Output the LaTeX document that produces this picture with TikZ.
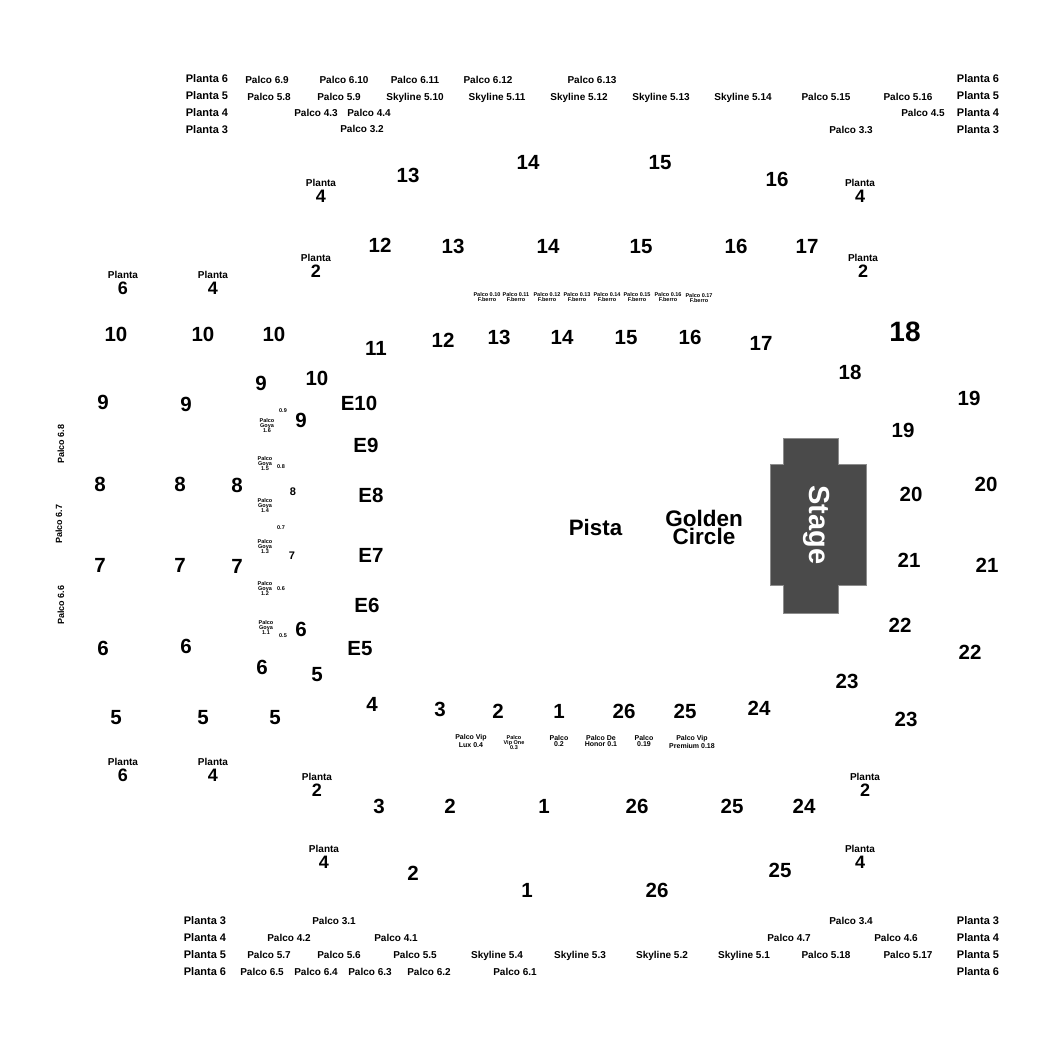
\documentclass[tikz,border=0pt]{standalone}
\usepackage{fontspec}
\setmainfont{Liberation Sans}
\definecolor{stagefill}{HTML}{4A4A4A}
\definecolor{stageline}{HTML}{8C8C8C}
\begin{document}
\begin{tikzpicture}[x=1pt,y=-1pt]
	\tikzstyle{every node}+=[inner sep=0pt,font=\bfseries,align=center]
	\tikzstyle{huge}=[yshift=-0.6pt,font=\bfseries\fontsize{28}{28}\selectfont]
	\tikzstyle{sec}=[yshift=-0.6pt,font=\bfseries\fontsize{20.5}{20.5}\selectfont]
	\tikzstyle{plantanum}=[yshift=-0.6pt,font=\bfseries\fontsize{18}{18}\selectfont]
	\tikzstyle{planta}=[yshift=-0.6pt,font=\bfseries\fontsize{10}{10}\selectfont]
	\tikzstyle{floor}=[yshift=-0.8pt,font=\bfseries\fontsize{11}{11}\selectfont]
	\tikzstyle{tier}=[text height=7.2pt,text depth=0pt,font=\bfseries\fontsize{10}{10}\selectfont]
	\tikzstyle{sidetier}=[rotate=90,font=\bfseries\fontsize{9}{9}\selectfont]
	\tikzstyle{box}=[font=\bfseries\fontsize{7}{6}\selectfont]
	\tikzstyle{tiny}=[font=\bfseries\fontsize{5.5}{5}\selectfont]
	\useasboundingbox (0,0) rectangle (1050,1050);
	% stage
	\fill [stagefill,draw=stageline,line width=0.5pt] (783,438.5) -- (838,438.5) -- (838,464.5) -- (866.5,464.5) -- (866.5,585) -- (838,585) -- (838,613.5) -- (783,613.5) -- (783,585) -- (770.5,585) -- (770.5,464.5) -- (783,464.5) -- cycle;
	\node [white,rotate=-90,font=\bfseries\fontsize{29}{29}\selectfont] (stage) at (817,525) {Stage};
	\node [font=\bfseries\fontsize{22.3}{22}\selectfont] (pista) at (595.5,528) {Pista};
	\node [font=\bfseries\fontsize{22.5}{18.5}\selectfont] (golden) at (704,527.5) {Golden\\Circle};
	% top legend
	\node [floor] (p6tl) at (207,78) {Planta 6};
	\node [floor] (p5tl) at (207,95) {Planta 5};
	\node [floor] (p4tl) at (207,112) {Planta 4};
	\node [floor] (p3tl) at (207,129) {Planta 3};
	\node [floor] (p6tr) at (978,78) {Planta 6};
	\node [floor] (p5tr) at (978,95) {Planta 5};
	\node [floor] (p4tr) at (978,112) {Planta 4};
	\node [floor] (p3tr) at (978,129) {Planta 3};
	\node [tier] (t69) at (267,80) {Palco 6.9};
	\node [tier] (t610) at (344,80) {Palco 6.10};
	\node [tier] (t611) at (415,80) {Palco 6.11};
	\node [tier] (t612) at (488,80) {Palco 6.12};
	\node [tier] (t613) at (592,80) {Palco 6.13};
	\node [tier] (t58) at (269,97) {Palco 5.8};
	\node [tier] (t59) at (339,97) {Palco 5.9};
	\node [tier] (t510) at (415,97) {Skyline 5.10};
	\node [tier] (t511) at (497,97) {Skyline 5.11};
	\node [tier] (t512) at (579,97) {Skyline 5.12};
	\node [tier] (t513) at (661,97) {Skyline 5.13};
	\node [tier] (t514) at (743,97) {Skyline 5.14};
	\node [tier] (t515) at (826,97) {Palco 5.15};
	\node [tier] (t516) at (908,97) {Palco 5.16};
	\node [tier] (t43) at (316,113) {Palco 4.3};
	\node [tier] (t44) at (369,113) {Palco 4.4};
	\node [tier] (t45) at (923,113) {Palco 4.5};
	\node [tier] (t32) at (362,129) {Palco 3.2};
	\node [tier] (t33) at (851,130) {Palco 3.3};
	% bottom legend
	\node [floor] (p3bl) at (205,920) {Planta 3};
	\node [floor] (p4bl) at (205,937) {Planta 4};
	\node [floor] (p5bl) at (205,954) {Planta 5};
	\node [floor] (p6bl) at (205,971) {Planta 6};
	\node [floor] (p3br) at (978,920) {Planta 3};
	\node [floor] (p4br) at (978,937) {Planta 4};
	\node [floor] (p5br) at (978,954) {Planta 5};
	\node [floor] (p6br) at (978,971) {Planta 6};
	\node [tier] (t31) at (334,921) {Palco 3.1};
	\node [tier] (t34) at (851,921) {Palco 3.4};
	\node [tier] (t42) at (289,938) {Palco 4.2};
	\node [tier] (t41) at (396,938) {Palco 4.1};
	\node [tier] (t47) at (789,938) {Palco 4.7};
	\node [tier] (t46) at (896,938) {Palco 4.6};
	\node [tier] (t57) at (269,955) {Palco 5.7};
	\node [tier] (t56) at (339,955) {Palco 5.6};
	\node [tier] (t55) at (415,955) {Palco 5.5};
	\node [tier] (t54) at (497,955) {Skyline 5.4};
	\node [tier] (t53) at (580,955) {Skyline 5.3};
	\node [tier] (t52) at (662,955) {Skyline 5.2};
	\node [tier] (t51) at (744,955) {Skyline 5.1};
	\node [tier] (t518) at (826,955) {Palco 5.18};
	\node [tier] (t517) at (908,955) {Palco 5.17};
	\node [tier] (t65) at (262,972) {Palco 6.5};
	\node [tier] (t64) at (316,972) {Palco 6.4};
	\node [tier] (t63) at (370,972) {Palco 6.3};
	\node [tier] (t62) at (429,972) {Palco 6.2};
	\node [tier] (t61) at (515,972) {Palco 6.1};
	% side palcos
	\node [sidetier] (t68) at (61,444) {Palco 6.8};
	\node [sidetier] (t67) at (59,524) {Palco 6.7};
	\node [sidetier] (t66) at (61,605) {Palco 6.6};
	% planta marks
	\node [planta] (m4a) at (321,182) {Planta};
	\node [plantanum] (m4an) at (321,196) {4};
	\node [planta] (m4b) at (860,182) {Planta};
	\node [plantanum] (m4bn) at (860,196) {4};
	\node [planta] (m2a) at (316,257) {Planta};
	\node [plantanum] (m2an) at (316,271) {2};
	\node [planta] (m2b) at (863,257) {Planta};
	\node [plantanum] (m2bn) at (863,271) {2};
	\node [planta] (m6a) at (123,274) {Planta};
	\node [plantanum] (m6an) at (123,288) {6};
	\node [planta] (m4c) at (213,274) {Planta};
	\node [plantanum] (m4cn) at (213,288) {4};
	\node [planta] (m6b) at (123,761) {Planta};
	\node [plantanum] (m6bn) at (123,775) {6};
	\node [planta] (m4d) at (213,761) {Planta};
	\node [plantanum] (m4dn) at (213,775) {4};
	\node [planta] (m2c) at (317,776) {Planta};
	\node [plantanum] (m2cn) at (317,790) {2};
	\node [planta] (m2d) at (865,776) {Planta};
	\node [plantanum] (m2dn) at (865,790) {2};
	\node [planta] (m4e) at (324,848) {Planta};
	\node [plantanum] (m4en) at (324,862) {4};
	\node [planta] (m4f) at (860,848) {Planta};
	\node [plantanum] (m4fn) at (860,862) {4};
	% outer ring
	\node [sec] (o13) at (408,175) {13};
	\node [sec] (o14) at (528,162) {14};
	\node [sec] (o15) at (660,162) {15};
	\node [sec] (o16) at (777,179) {16};
	\node [huge] (o18) at (905,331) {18};
	\node [sec] (o19) at (969,398) {19};
	\node [sec] (o20) at (986,484) {20};
	\node [sec] (o21) at (987,565) {21};
	\node [sec] (o22) at (970,652) {22};
	\node [sec] (o23) at (906,719) {23};
	\node [sec] (o25) at (780,870) {25};
	\node [sec] (o26) at (657,890) {26};
	\node [sec] (o1) at (527,890) {1};
	\node [sec] (o2) at (413,873) {2};
	\node [sec] (o10a) at (116,334) {10};
	\node [sec] (o9a) at (103,402) {9};
	\node [sec] (o8a) at (100,484) {8};
	\node [sec] (o7a) at (100,565) {7};
	\node [sec] (o6a) at (103,648) {6};
	\node [sec] (o5a) at (116,717) {5};
	\node [sec] (o10b) at (203,334) {10};
	\node [sec] (o9b) at (186,404) {9};
	\node [sec] (o8b) at (180,484) {8};
	\node [sec] (o7b) at (180,565) {7};
	\node [sec] (o6b) at (186,646) {6};
	\node [sec] (o5b) at (203,717) {5};
	% middle ring
	\node [sec] (m12) at (380,245) {12};
	\node [sec] (m13) at (453,246) {13};
	\node [sec] (m14) at (548,246) {14};
	\node [sec] (m15) at (641,246) {15};
	\node [sec] (m16) at (736,246) {16};
	\node [sec] (m17) at (807,246) {17};
	\node [sec] (m10) at (274,334) {10};
	\node [sec] (m9) at (261,383) {9};
	\node [sec] (m8) at (237,485) {8};
	\node [sec] (m7) at (237,566) {7};
	\node [sec] (m6) at (262,667) {6};
	\node [sec] (m5) at (275,717) {5};
	\node [sec] (m18) at (850,372) {18};
	\node [sec] (m19) at (903,430) {19};
	\node [sec] (m20) at (911,494) {20};
	\node [sec] (m21) at (909,560) {21};
	\node [sec] (m22) at (900,625) {22};
	\node [sec] (m23) at (847,681) {23};
	\node [sec] (m3) at (379,806) {3};
	\node [sec] (m2) at (450,806) {2};
	\node [sec] (m1) at (544,806) {1};
	\node [sec] (m26) at (637,806) {26};
	\node [sec] (m25) at (732,806) {25};
	\node [sec] (m24) at (804,806) {24};
	% inner ring
	\node [sec] (i11) at (376,348) {11};
	\node [sec] (i12) at (443,340) {12};
	\node [sec] (i13) at (499,337) {13};
	\node [sec] (i14) at (562,337) {14};
	\node [sec] (i15) at (626,337) {15};
	\node [sec] (i16) at (690,337) {16};
	\node [sec] (i17) at (761,343) {17};
	\node [sec] (i10) at (317,378) {10};
	\node [sec] (i9) at (301,420) {9};
	\node [planta,font=\bfseries\fontsize{11}{11}\selectfont] (i8) at (293,491) {8};
	\node [planta,font=\bfseries\fontsize{11}{11}\selectfont] (i7) at (292,555) {7};
	\node [sec] (i6) at (301,629) {6};
	\node [sec] (i5) at (317,674) {5};
	\node [sec] (i4) at (372,704) {4};
	\node [sec] (i3) at (440,709) {3};
	\node [sec] (i2) at (498,711) {2};
	\node [sec] (i1) at (559,711) {1};
	\node [sec] (i26) at (624,711) {26};
	\node [sec] (i25) at (685,711) {25};
	\node [sec] (i24) at (759,708) {24};
	\node [sec] (e10) at (359,403) {E10};
	\node [sec] (e9) at (366,445) {E9};
	\node [sec] (e8) at (371,495) {E8};
	\node [sec] (e7) at (371,555) {E7};
	\node [sec] (e6) at (367,605) {E6};
	\node [sec] (e5) at (360,648) {E5};
	% palcos f.berro
	\node [tiny] (f10) at (487,297) {Palco 0.10\\F.berro};
	\node [tiny] (f11) at (516,297) {Palco 0.11\\F.berro};
	\node [tiny] (f12) at (547,297) {Palco 0.12\\F.berro};
	\node [tiny] (f13) at (577,297) {Palco 0.13\\F.berro};
	\node [tiny] (f14) at (607,297) {Palco 0.14\\F.berro};
	\node [tiny] (f15) at (637,297) {Palco 0.15\\F.berro};
	\node [tiny] (f16) at (668,297) {Palco 0.16\\F.berro};
	\node [tiny] (f17) at (699,298) {Palco 0.17\\F.berro};
	% palcos goya
	\node [tiny] (g16) at (267,426) {Palco\\Goya\\1.6};
	\node [tiny] (g15) at (265,464) {Palco\\Goya\\1.5};
	\node [tiny] (g14) at (265,505) {Palco\\Goya\\1.4};
	\node [tiny] (g13) at (265,547) {Palco\\Goya\\1.3};
	\node [tiny] (g12) at (265,588) {Palco\\Goya\\1.2};
	\node [tiny] (g11) at (266,627) {Palco\\Goya\\1.1};
	\node [tiny] (z9) at (283,411) {0.9};
	\node [tiny] (z8) at (281,467) {0.8};
	\node [tiny] (z7) at (281,528) {0.7};
	\node [tiny] (z6) at (281,589) {0.6};
	\node [tiny] (z5) at (283,636) {0.5};
	% palcos bottom
	\node [box] (v4) at (471,741) {Palco Vip\\Lux 0.4};
	\node [tiny] (v3) at (514,743) {Palco\\Vip One\\0.3};
	\node [box] (v2) at (559,741) {Palco\\0.2};
	\node [box] (v1) at (601,741) {Palco De\\Honor 0.1};
	\node [box] (v19) at (644,741) {Palco\\0.19};
	\node [box] (v18) at (692,742) {Palco Vip\\Premium 0.18};
\end{tikzpicture}
\end{document}
